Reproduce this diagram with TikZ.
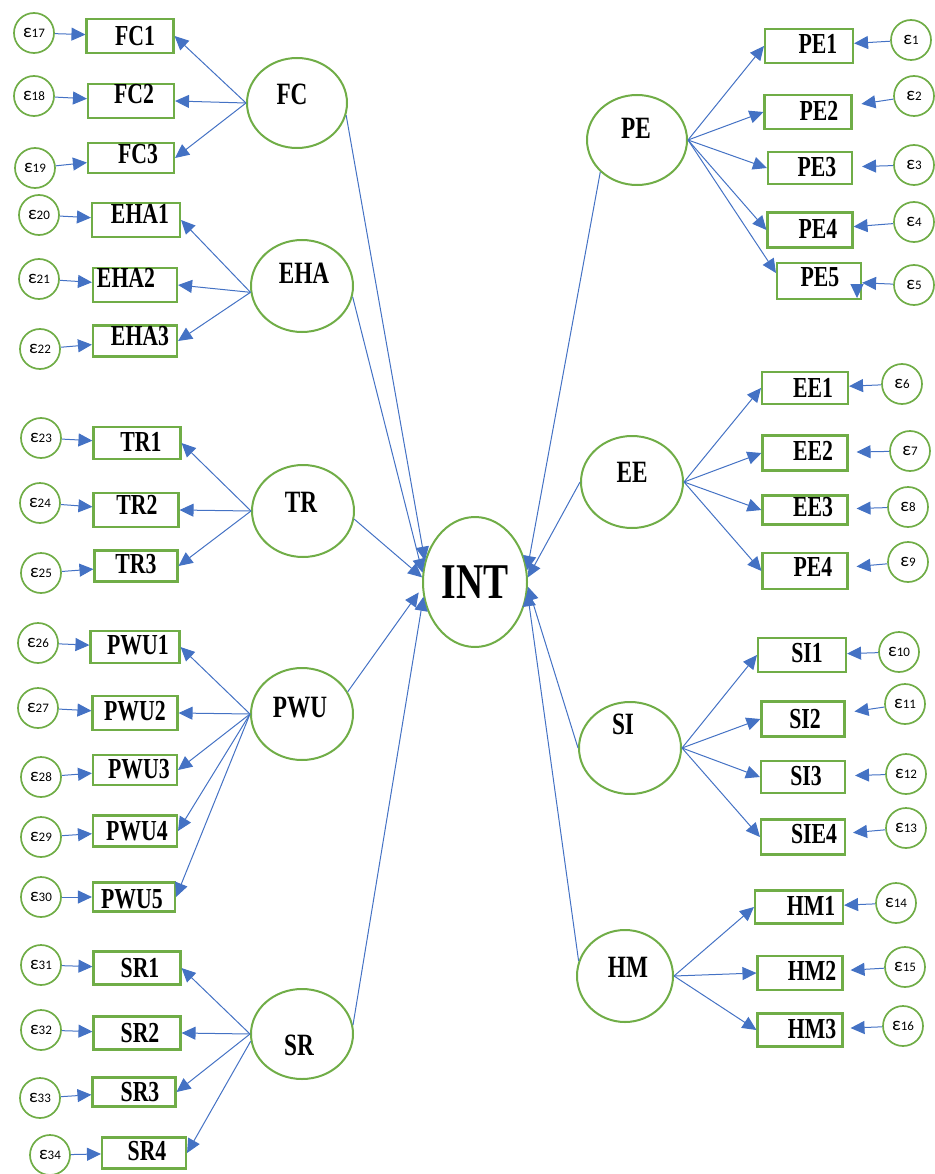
\documentclass[tikz,border=0pt]{standalone}
\usepackage{fontspec}
\usetikzlibrary{arrows.meta,shapes.geometric}
\newfontfamily\lblfont[FakeStretch=0.75]{Liberation Serif}
\newfontfamily\epsfont{Carlito}
\definecolor{sgreen}{HTML}{70AD47}
\definecolor{sblue}{HTML}{4472C4}
\tikzset{
 indbox/.style={draw=sgreen, line width=2.1pt, rectangle, inner sep=0pt},
 lbltext/.style={inner sep=0pt, font=\lblfont\bfseries\fontsize{29}{29}\selectfont},
 latent/.style={draw=sgreen, line width=2pt, ellipse, inner sep=0pt},
 lattext/.style={inner sep=0pt, font=\lblfont\bfseries\fontsize{31}{31}\selectfont},
 errc/.style={draw=sgreen, line width=1.7pt, ellipse, inner sep=0pt, minimum width=40pt, minimum height=40pt, font=\epsfont\fontsize{13}{13}\selectfont},
 arr/.style={draw=sblue, line width=1pt, -{Triangle[length=14pt,width=13pt]}}
}
\newcommand\indic[8]{\node[indbox, minimum width=#4pt, minimum height=#5pt] (#1) at (#2,#3) {};
 \node[lbltext] (#1t) at ([shift={(#7,#8)}]#1.center) {#6};}
\newcommand\lat[7]{\node[latent, minimum width=#4pt, minimum height=#5pt] (#1) at (#2,#3) {};
 \node[lattext] (#1t) at ([shift={(#6,#7)}]#1.center) {#1};}
\newcommand\err[4]{\node[errc] (#1) at (#2,#3) {{\fontsize{19}{19}\selectfont ε}#4};}
\begin{document}
\begin{tikzpicture}[x=1pt,y=-1pt]
\useasboundingbox (0,0) rectangle (934,1174);
% left indicators
\indic{FC1}{130}{36}{87}{34}{FC1}{5}{0}
\indic{FC2}{131}{101}{86}{34}{FC2}{3}{-7}
\indic{FC3}{131}{158}{86}{30}{FC3}{7}{-4}
\indic{EHA1}{136}{220}{88}{34}{EHA1}{4}{-6}
\indic{EHA2}{135}{285}{84}{34}{EHA2}{-9}{-7}
\indic{EHA3}{135}{341}{84}{31}{EHA3}{5}{-5}
\indic{TR1}{137}{443}{87}{32}{TR1}{4}{-1}
\indic{TR2}{136}{510}{85}{34}{TR2}{1}{-5}
\indic{TR3}{136}{566}{83}{31}{TR3}{0}{-2}
\indic{PWU1}{135}{647}{89}{32}{PWU1}{3}{-2}
\indic{PWU2}{135}{713}{85}{34}{PWU2}{0}{-2}
\indic{PWU3}{135}{770}{84}{30}{PWU3}{4}{-1}
\indic{PWU4}{135}{831}{84}{31}{PWU4}{2}{0}
\indic{PWU5}{134}{897}{82}{29}{PWU5}{-2}{2}
\indic{SR1}{137}{968}{87}{33}{SR1}{3}{0}
\indic{SR2}{137}{1033}{87}{33}{SR2}{3}{0}
\indic{SR3}{134}{1092}{83}{29}{SR3}{6}{0}
\indic{SR4}{144}{1153}{84}{31}{SR4}{3}{-2}
% right indicators
\indic{PE1}{809}{46}{88}{34}{PE1}{9}{-2}
\indic{PE2}{808}{112}{87}{34}{PE2}{11}{-1}
\indic{PE3}{810}{168}{84}{32}{PE3}{7}{-1}
\indic{PE4}{810}{230}{85}{35}{PE4}{8}{-1}
\indic{PE5}{819}{281}{84}{36}{PE5}{1}{-4}
\indic{EE1}{805}{388}{86}{32}{EE1}{8}{0}
\indic{EE2}{805}{453}{85}{35}{EE2}{8}{-2}
\indic{EE3}{805}{510}{85}{29}{EE3}{8}{-3}
\indic{EE4}{805}{571}{85}{36}{PE4}{8}{-4}
\indic{SI1}{802}{655}{88}{34}{SI1}{5}{-2}
\indic{SI2}{803}{719}{83}{35}{SI2}{2}{0}
\indic{SI3}{803}{777}{84}{32}{SI3}{3}{-1}
\indic{SI4}{803}{837}{84}{35}{SIE4}{11}{-3}
\indic{HM1}{799}{907}{88}{33}{HM1}{12}{-1}
\indic{HM2}{800}{973}{85}{34}{HM2}{12}{-2}
\indic{HM3}{800}{1030}{85}{33}{HM3}{12}{-1}
% latents
\lat{FC}{297}{103}{100}{90}{-5}{-9}
\lat{EHA}{302}{286}{102}{92}{2}{-13}
\lat{TR}{303}{511}{102}{92}{-2}{-9}
\lat{PWU}{302}{714}{102}{92}{-2}{-6}
\lat{SR}{302}{1034}{102}{90}{-3}{11}
\lat{PE}{637}{140}{100}{90}{-1}{-12}
\lat{EE}{632}{482}{102}{92}{0}{-10}
\lat{SI}{630}{748}{102}{92}{-7}{-24}
\lat{HM}{625}{976}{96}{92}{3}{-9}
\node[latent, minimum width=104pt, minimum height=130pt] (INT) at (475,582) {};
\node[inner sep=0pt, font=\lblfont\bfseries\fontsize{50}{50}\selectfont] (INTt) at (INT.center) {INT};
% errors left
\err{e17}{34}{33}{17}
\err{e18}{34}{96}{18}
\err{e19}{35}{168}{19}
\err{e20}{39}{215}{20}
\err{e21}{39}{279}{21}
\err{e22}{40}{349}{22}
\err{e23}{41}{438}{23}
\err{e24}{40}{503}{24}
\err{e25}{41}{573}{25}
\err{e26}{38}{643}{26}
\err{e27}{38}{708}{27}
\err{e28}{41}{777}{28}
\err{e29}{41}{837}{29}
\err{e30}{41}{897}{30}
\err{e31}{41}{965}{31}
\err{e32}{41}{1030}{32}
\err{e33}{40}{1098}{33}
\err{e34}{50}{1155}{34}
% errors right
\err{e1}{911}{40}{1}
\err{e2}{914}{96}{2}
\err{e3}{914}{165}{3}
\err{e4}{914}{222}{4}
\err{e5}{914}{285}{5}
\err{e6}{902}{384}{6}
\err{e7}{910}{451}{7}
\err{e8}{908}{507}{8}
\err{e9}{908}{562}{9}
\err{e10}{899}{652}{10}
\err{e11}{905}{704}{11}
\err{e12}{906}{774}{12}
\err{e13}{906}{828}{13}
\err{e14}{896}{903}{14}
\err{e15}{905}{967}{15}
\err{e16}{903}{1026}{16}
% error arrows
\foreach \e/\b in {e17/FC1,e18/FC2,e19/FC3,e20/EHA1,e21/EHA2,e22/EHA3,e23/TR1,e24/TR2,e25/TR3,e26/PWU1,e27/PWU2,e28/PWU3,e29/PWU4,e30/PWU5,e31/SR1,e32/SR2,e33/SR3,e34/SR4}
  \draw[arr] (\e) -- (\b);
\foreach \e/\b/\s in {e1/PE1/0,e2/PE2/9,e3/PE3/9,e4/PE4/0,e5/PE5/0,e6/EE1/0,e7/EE2/8,e8/EE3/8,e9/EE4/8,e10/SI1/0,e11/SI2/9,e12/SI3/9,e13/SI4/7,e14/HM1/0,e15/HM2/7,e16/HM3/7}
  \draw[arr, shorten >=\s pt] (\e) -- (\b);
% loadings left
\foreach \b in {FC1,FC2,FC3} \draw[arr] (FC.west) -- (\b.east);
\foreach \b in {EHA1,EHA2,EHA3} \draw[arr] (EHA.187) -- (\b.east);
\foreach \b in {TR1,TR2,TR3} \draw[arr] (TR.west) -- (\b.east);
\foreach \b in {PWU1,PWU2,PWU3,PWU4,PWU5} \draw[arr] (PWU.west) -- (\b.east);
\foreach \b in {SR1,SR2,SR3} \draw[arr] (SR.west) -- (\b.east);
\draw[arr] (SR.188) -- (SR4.east);
% loadings right
\foreach \b in {PE1,PE2,PE3,PE4} \draw[arr] (PE.east) -- (\b.west);
\draw[arr] (PE.east) -- ([yshift=8pt]PE5.west);
\foreach \b in {EE1,EE2,EE3,EE4} \draw[arr] (EE.east) -- (\b.west);
\foreach \b in {SI1,SI2,SI3,SI4} \draw[arr] (SI.east) -- (\b.west);
\foreach \b in {HM1,HM2,HM3} \draw[arr] (HM.east) -- (\b.west);
% stray arrowhead at PE5
\coordinate (pe5a) at ([xshift=38pt,yshift=16pt]PE5.south);
\coordinate (pe5b) at ([xshift=38pt,yshift=2pt]PE5.south);
\draw[arr] (pe5a) -- (pe5b);
% structural paths
\draw[arr] (FC.-14) -- (INT.157);
\draw[arr] (EHA.-12) -- (INT.170);
\draw[arr] (TR.-9) -- (INT.175);
\draw[arr, shorten >=6pt] (PWU.26) -- (INT.186);
\draw[arr] (SR.10) -- (INT.196);
\draw[arr] (PE.221) -- (INT.13);
\draw[arr] (EE.180) -- (INT.5);
\draw[arr] (SI.180) -- (INT.-5);
\draw[arr] (HM.162) -- (INT.-11);
\end{tikzpicture}
\end{document}
